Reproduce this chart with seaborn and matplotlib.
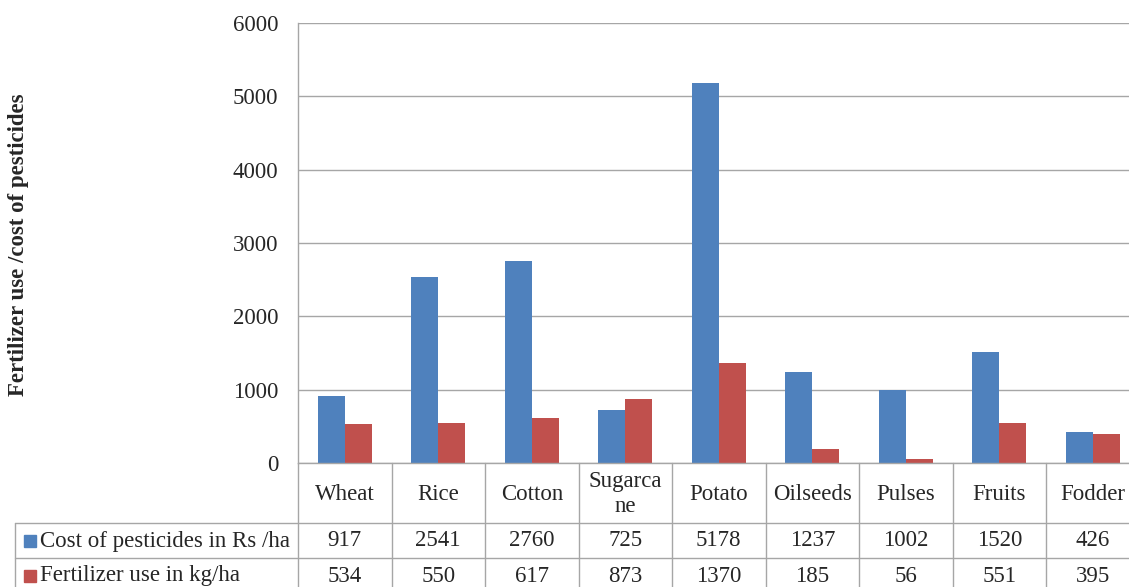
import matplotlib
matplotlib.use("Agg")
import matplotlib.pyplot as plt
import matplotlib.transforms as mtransforms
import pandas as pd
import seaborn as sns

# Data
crops = ["Wheat", "Rice", "Cotton", "Sugarcane", "Potato", "Oilseeds", "Pulses", "Fruits", "Fodder"]
crop_labels = ["Wheat", "Rice", "Cotton", "Sugarca\nne", "Potato", "Oilseeds", "Pulses", "Fruits", "Fodder"]
pesticide_cost = [917, 2541, 2760, 725, 5178, 1237, 1002, 1520, 426]
fertilizer_use = [534, 550, 617, 873, 1370, 185, 56, 551, 395]
series_names = ["Cost of pesticides in Rs /ha", "Fertilizer use in kg/ha"]
y_ticks = [0, 1000, 2000, 3000, 4000, 5000, 6000]

df = pd.DataFrame({
    "crop": crops * 2,
    "value": pesticide_cost + fertilizer_use,
    "series": [series_names[0]] * len(crops) + [series_names[1]] * len(crops),
})

BLUE = "#4F81BD"
RED = "#C0504D"
GRID = "#A6A6A6"
FS = 16.5

sns.set_style("white")
plt.rcParams["font.family"] = ["Liberation Serif", "DejaVu Serif"]

W, H = 1129, 587
fig = plt.figure(figsize=(W / 100, H / 100), dpi=100)

# plot area in pixels
left_px, right_px, top_px, bottom_px = 298, 298 + 9 * 93.5, 23, 463
ax = fig.add_axes([left_px / W, 1 - bottom_px / H,
                   (right_px - left_px) / W, (bottom_px - top_px) / H])

sns.barplot(data=df, x="crop", y="value", hue="series", order=crops,
            hue_order=series_names, palette=[BLUE, RED], width=0.58,
            saturation=1, legend=False, ax=ax, linewidth=0)

ax.set_xlim(-0.5, len(crops) - 0.5)
ax.set_ylim(0, 6000)
ax.set_yticks(y_ticks)
ax.set_yticklabels([str(t) for t in y_ticks], fontsize=FS)
ax.tick_params(axis="y", length=0, pad=14)
ax.set_xticks([])
ax.set_xlabel("")
ax.set_ylabel("Fertilizer use /cost of pesticides", fontsize=FS, fontweight="bold")
ax.yaxis.set_label_coords((29 - left_px) / (right_px - left_px), 0.495)
ax.yaxis.grid(True, color=GRID, lw=1)
ax.set_axisbelow(True)
for s in ["top", "right"]:
    ax.spines[s].set_visible(False)
for s in ["left", "bottom"]:
    ax.spines[s].set_color(GRID)
    ax.spines[s].set_linewidth(1)

# helpers for the data table below the axes
span_px = right_px - left_px
def ay(py):
    return (bottom_px - py) / (bottom_px - top_px)
def axx(px):
    return (px - left_px) / span_px

blend = mtransforms.blended_transform_factory(ax.transData, ax.transAxes)
line_kw = dict(color=GRID, lw=1, clip_on=False)

row1_bot, row2_bot, row3_bot = ay(523), ay(558), ay(593)
table_left = axx(15)

# vertical column separators
for i in range(len(crops) + 1):
    ax.plot([i - 0.5, i - 0.5], [0, row3_bot], transform=blend, **line_kw)
# row header column border
ax.plot([table_left, table_left], [row1_bot, row3_bot], transform=ax.transAxes, **line_kw)
# horizontal row separators
for yb in [row1_bot, row2_bot]:
    ax.plot([table_left, 1.02], [yb, yb], transform=ax.transAxes, **line_kw)

# category names
for i, lab in enumerate(crop_labels):
    ax.text(i, ay(494), lab, transform=blend, ha="center", va="center",
            fontsize=FS, linespacing=1.25)

# series rows
for vals, name, color, yc in [(pesticide_cost, series_names[0], BLUE, ay(541)),
                              (fertilizer_use, series_names[1], RED, ay(576))]:
    for i, v in enumerate(vals):
        ax.text(i, yc, str(v), transform=blend, ha="center", va="center", fontsize=FS)
    ax.plot([axx(30)], [yc], marker="s", markersize=9, color=color,
            transform=ax.transAxes, clip_on=False, linestyle="none")
    ax.text(axx(40), yc, name, transform=ax.transAxes, ha="left", va="center", fontsize=FS)

fig.savefig("out.png", dpi=100)
